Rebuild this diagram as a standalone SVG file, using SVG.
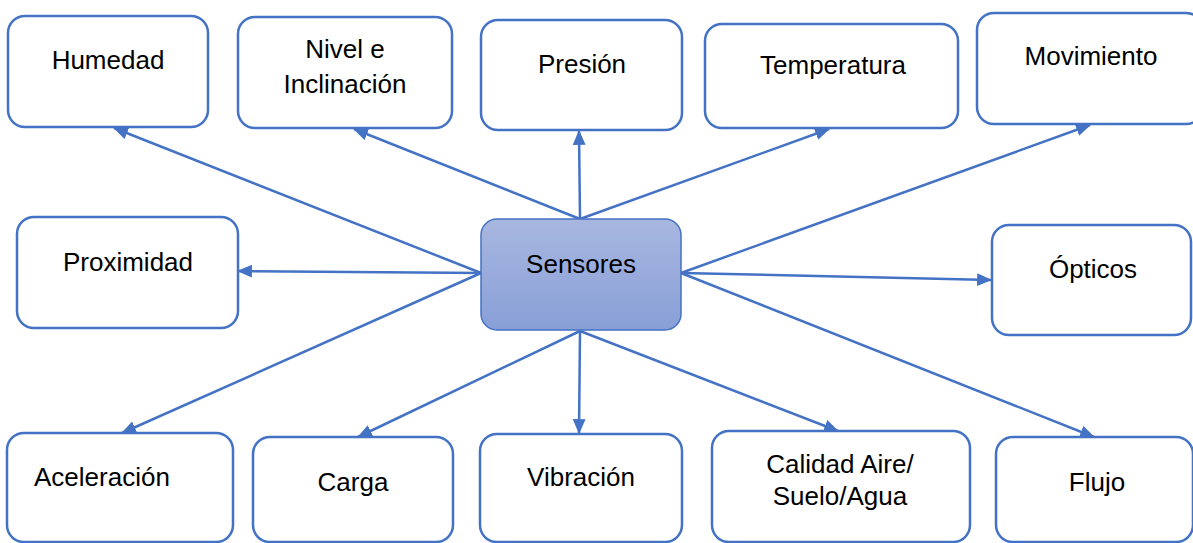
<svg xmlns="http://www.w3.org/2000/svg" width="1193" height="543" viewBox="0 0 1193 543">
<style>
.box{fill:#ffffff;stroke:#4472c4;stroke-width:2.5}
.lbl{font-family:"Liberation Sans",Arial,sans-serif;font-size:26px;fill:#000000;text-anchor:middle}
.con{stroke:#4472c4;stroke-width:2.5;fill:none;marker-end:url(#arr)}
</style>
<defs>
<marker id="arr" viewBox="0 0 14 12" refX="13" refY="6" markerWidth="15" markerHeight="13" markerUnits="userSpaceOnUse" orient="auto">
<path d="M0,0 L14,6 L0,12 z" fill="#4472c4"/>
</marker>
<linearGradient id="cg" x1="0" y1="0" x2="0" y2="1">
<stop offset="0" stop-color="#a8b7e0"/>
<stop offset="1" stop-color="#889fd7"/>
</linearGradient>
</defs>
<g id="connectors">
<line class="con" x1="481" y1="273" x2="114" y2="128"/>
<line class="con" x1="580" y1="219" x2="354" y2="129"/>
<line class="con" x1="580" y1="219" x2="579" y2="131"/>
<line class="con" x1="580" y1="219" x2="829" y2="129"/>
<line class="con" x1="681" y1="273" x2="1090" y2="125"/>
<line class="con" x1="481" y1="273" x2="238" y2="271"/>
<line class="con" x1="681" y1="273" x2="991" y2="280"/>
<line class="con" x1="481" y1="273" x2="122" y2="433"/>
<line class="con" x1="580" y1="331" x2="358" y2="437"/>
<line class="con" x1="580" y1="331" x2="579" y2="433"/>
<line class="con" x1="580" y1="331" x2="838" y2="431"/>
<line class="con" x1="681" y1="273" x2="1094" y2="437"/>
</g>
<g id="humedad"><rect class="box" x="8" y="16" width="200" height="111" rx="17"/><text class="lbl" x="108" y="69">Humedad</text></g>
<g id="nivel"><rect class="box" x="238" y="17" width="214" height="111" rx="17"/><text class="lbl" x="345" y="58">Nivel e</text><text class="lbl" x="345" y="93">Inclinación</text></g>
<g id="presion"><rect class="box" x="481" y="20" width="201" height="110" rx="17"/><text class="lbl" x="582" y="73">Presión</text></g>
<g id="temperatura"><rect class="box" x="705" y="24" width="253" height="104" rx="17"/><text class="lbl" x="833" y="74">Temperatura</text></g>
<g id="movimiento"><rect class="box" x="977" y="13" width="226" height="111" rx="17"/><text class="lbl" x="1091" y="65">Movimiento</text></g>
<g id="proximidad"><rect class="box" x="17" y="217" width="221" height="111" rx="17"/><text class="lbl" x="128" y="271">Proximidad</text></g>
<g id="sensores"><rect x="481" y="219" width="200" height="111" rx="16" fill="url(#cg)" stroke="#4472c4" stroke-width="1.5"/><text class="lbl" x="581" y="273">Sensores</text></g>
<g id="opticos"><rect class="box" x="992" y="225" width="199" height="110" rx="17"/><text class="lbl" x="1093" y="278">Ópticos</text></g>
<g id="aceleracion"><rect class="box" x="7" y="433" width="226" height="109" rx="17"/><text class="lbl" x="34" y="486" style="text-anchor:start">Aceleración</text></g>
<g id="carga"><rect class="box" x="253" y="437" width="200" height="105" rx="17"/><text class="lbl" x="353" y="491">Carga</text></g>
<g id="vibracion"><rect class="box" x="480" y="434" width="202" height="108" rx="17"/><text class="lbl" x="581" y="486">Vibración</text></g>
<g id="calidad"><rect class="box" x="712" y="431" width="258" height="111" rx="17"/><text class="lbl" x="840" y="473">Calidad Aire/</text><text class="lbl" x="840" y="505">Suelo/Agua</text></g>
<g id="flujo"><rect class="box" x="996" y="437" width="197" height="105" rx="17"/><text class="lbl" x="1097" y="491">Flujo</text></g>
</svg>
